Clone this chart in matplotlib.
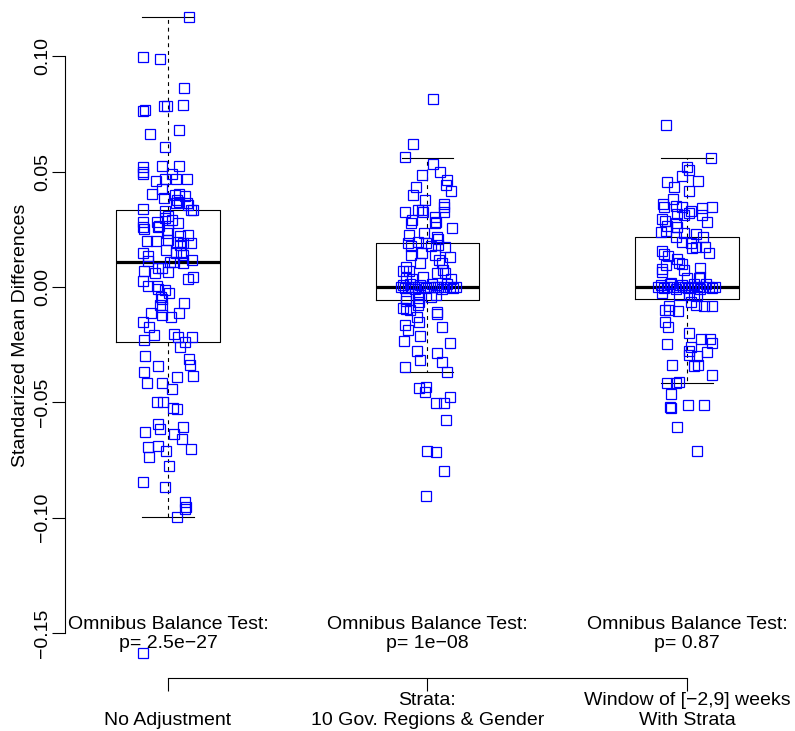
import matplotlib.pyplot as plt

plt.rcParams['font.family'] = ['Liberation Sans', 'DejaVu Sans']

# groups and labels
groups = [1, 2, 3]
group_labels = ["\nNo Adjustment",
                "Strata:\n10 Gov. Regions & Gender",
                "Window of [\u22122,9] weeks\nWith Strata"]
pvals = ["2.5e\u221227", "1e\u221208", "0.87"]
ytick_vals = [-0.15, -0.10, -0.05, 0.0, 0.05, 0.10]
ytick_labels = ["\u22120.15", "\u22120.10", "\u22120.05", "0.00", "0.05", "0.10"]

# box stats
box_q1 = [-0.0237, -0.0058, -0.0053]
box_med = [0.0108, 0.0, 0.0]
box_q3 = [0.0334, 0.0190, 0.0217]
box_lo = [-0.0997, -0.0370, -0.0416]
box_hi = [0.117, 0.0561, 0.0558]

# group 1: No Adjustment (value, jitter)
g1_y = [0.117, 0.0997, 0.0989, 0.0863, 0.0763, 0.0768, 0.0785, 0.0785, 0.079, 0.0663,
        0.0681, 0.0607, 0.052, 0.050, 0.049, 0.0525, 0.0525, 0.049, 0.046, 0.047,
        0.047, 0.047, 0.0405, 0.0425, 0.0386, 0.040, 0.0403, 0.0395, 0.0377, 0.037,
        0.0356, 0.0334, 0.0334, 0.0338, 0.033, 0.0364, 0.0364, 0.028, 0.026, 0.025,
        0.028, 0.0265, 0.026, 0.030, 0.0308, 0.029, 0.0278, 0.0247, 0.0234, 0.022,
        0.0225, 0.020, 0.020, 0.0204, 0.0195, 0.018, 0.019, 0.019, 0.016, 0.0147,
        0.0134, 0.0147, 0.015, 0.0139, 0.0113, 0.0108, 0.0108, 0.0104, 0.0117, 0.0082,
        0.0082, 0.0069, 0.0065, 0.006, 0.0026, 0.0035, 0.0043, 0.0004, 0.0004, -0.0009,
        -0.0013, -0.0026, -0.0043, -0.0052, -0.0069, -0.0078, -0.0087, -0.0113, -0.0121, -0.013,
        -0.0113, -0.0152, -0.0173, -0.0208, -0.023, -0.0204, -0.0217, -0.0239, -0.0217, -0.026,
        -0.030, -0.0312, -0.0338, -0.0343, -0.0369, -0.0386, -0.0416, -0.0416, -0.039, -0.0442,
        -0.0499, -0.0499, -0.0525, -0.0529, -0.0594, -0.0616, -0.0629, -0.0607, -0.0637, -0.0659,
        -0.0694, -0.069, -0.0711, -0.0737, -0.0703, -0.0776, -0.0846, -0.0867, -0.0932, -0.0954,
        -0.0963, -0.0997, -0.1587]
g1_jit = [0.08, -0.096, -0.03, 0.06, -0.096, -0.089, -0.015, -0.004, 0.058, -0.069,
          0.042, -0.012, -0.096, -0.096, -0.096, -0.023, 0.042, 0.015, -0.046, -0.012,
          0.031, 0.073, -0.062, -0.023, -0.015, 0.027, 0.042, 0.065, 0.035, 0.042,
          0.077, 0.088, 0.096, -0.096, -0.012, 0.031, 0.073, -0.096, -0.096, -0.092,
          -0.042, -0.035, -0.038, -0.012, 0.0, 0.015, 0.038, 0.0, -0.004, 0.046,
          0.077, -0.081, -0.046, 0.0, 0.035, 0.046, 0.058, 0.088, -0.008, -0.096,
          -0.077, 0.031, 0.05, 0.058, -0.077, 0.008, 0.023, 0.058, 0.092, -0.038,
          -0.023, -0.092, 0.0, -0.05, -0.096, 0.077, 0.096, -0.077, -0.042, -0.038,
          -0.012, 0.004, -0.027, -0.023, 0.062, -0.031, -0.023, -0.065, -0.023, 0.012,
          0.042, -0.096, -0.073, -0.054, -0.092, 0.023, 0.038, 0.065, 0.092, 0.046,
          -0.088, 0.081, 0.085, -0.038, -0.092, 0.096, -0.081, -0.023, 0.035, 0.015,
          -0.042, -0.019, 0.019, 0.035, -0.038, -0.031, -0.088, 0.058, 0.023, 0.054,
          -0.077, -0.038, -0.008, -0.073, 0.088, 0.004, -0.096, -0.012, 0.065, 0.069,
          0.065, 0.035, -0.096]

# group 2: Strata (value, jitter)
g2_y = [0.0815, 0.062, 0.0564, 0.0533, 0.0499, 0.0486, 0.0464, 0.0442, 0.0416, 0.0434,
        0.0399, 0.0377, 0.036, 0.0347, 0.0325, 0.0325, 0.0334, 0.0334, 0.0325, 0.0304,
        0.0282, 0.0278, 0.029, 0.0278, 0.0256, 0.0234, 0.0225, 0.0217, 0.0208, 0.019,
        0.0178, 0.0195, 0.019, 0.0178, 0.0182, 0.0173, 0.0139, 0.0147, 0.0139, 0.013,
        0.0104, 0.0117, 0.0104, 0.0069, 0.0069, 0.0087, 0.0043, 0.006, 0.0074, 0.006,
        0.0039, 0.0035, 0.0035,
        0.0, 0.001, -0.0005, 0.0, 0.0013, 0.0, -0.0008, 0.0, 0.0009, 0.0,
        -0.0004, 0.0, 0.0011, 0.0, 0.0, -0.0009, 0.0, 0.0013, 0.0, -0.0006, 0.0,
        -0.0048, -0.0048, -0.0043, -0.0065, -0.0035, -0.003, -0.0061, -0.0091, -0.0095, -0.01,
        -0.0078, -0.0108, -0.0117, -0.013, -0.0152, -0.0165, -0.0186, -0.0173, -0.0212, -0.0234,
        -0.0243, -0.0278, -0.0286, -0.0317, -0.0325, -0.0347, -0.0369, -0.0438, -0.0434, -0.0455,
        -0.0477, -0.0503, -0.0503, -0.0577, -0.0711, -0.0716, -0.0798, -0.0906]
g2_jit = [0.023, -0.054, -0.085, 0.023, 0.05, -0.023, 0.077, 0.073, 0.092, -0.046,
          -0.054, -0.008, 0.065, 0.065, 0.065, -0.088, -0.038, -0.023, -0.019, 0.027,
          0.031, 0.027, -0.058, -0.062, 0.096, -0.012, -0.073, 0.038, 0.042, -0.077,
          -0.062, -0.038, -0.004, 0.015, 0.042, 0.069, -0.062, -0.023, 0.027, 0.085,
          -0.027, 0.046, 0.054, -0.096, -0.073, -0.081, -0.019, 0.038, 0.058, 0.069,
          -0.081, -0.058, 0.092,
          -0.104, -0.096, -0.085, -0.077, -0.069, -0.058, -0.05, -0.038, -0.027, -0.015,
          -0.004, 0.008, 0.019, 0.031, 0.042, 0.054, 0.065, 0.077, 0.088, 0.1, 0.108,
          -0.081, -0.031, 0.015, -0.031, 0.031, -0.038, -0.081, -0.096, -0.081, -0.069,
          -0.038, 0.035, 0.035, -0.042, -0.031, -0.085, -0.077, 0.054, -0.027, -0.092,
          0.085, -0.042, 0.038, -0.027, 0.054, -0.088, 0.077, -0.031, -0.004, -0.008,
          0.085, 0.031, 0.065, 0.073, 0.0, 0.031, 0.065, -0.004]

# group 3: Window with strata (value, jitter)
g3_y = [0.0703, 0.056, 0.052, 0.0507, 0.0481, 0.0455, 0.046, 0.0434, 0.0416, 0.0382,
        0.036, 0.0347, 0.0351, 0.0347, 0.033, 0.0343, 0.0347, 0.0317, 0.0312, 0.0321,
        0.0312, 0.0295, 0.0286, 0.0265, 0.0278, 0.026, 0.0282, 0.0239, 0.0243, 0.0217,
        0.0234, 0.023, 0.0217, 0.0195, 0.019, 0.0173, 0.0169, 0.0173, 0.0156, 0.0143,
        0.0134, 0.0147, 0.0121, 0.0104, 0.0095, 0.0078, 0.0065, 0.01, 0.0074, 0.0082,
        0.0039, 0.0039, 0.0043, 0.0017,
        0.0, 0.0008, -0.0006, 0.0, 0.0012, 0.0, -0.0009, 0.0, 0.001, 0.0,
        -0.0005, 0.0, 0.0011, 0.0, -0.0007, 0.0, 0.0013, 0.0, -0.0004, 0.0,
        -0.0026, -0.0035, -0.0035, -0.0039, -0.0035, -0.0065, -0.0078, -0.0082, -0.0082, -0.0082,
        -0.01, -0.01, -0.0104, -0.0152, -0.0173, -0.02, -0.0247, -0.0225, -0.0225, -0.0243,
        -0.0282, -0.0278, -0.026, -0.0295, -0.0299, -0.0343, -0.0338, -0.0338, -0.0382, -0.0416,
        -0.0416, -0.0412, -0.0464, -0.052, -0.0525, -0.0512, -0.0512, -0.0607, -0.0711]
g3_jit = [-0.08, 0.092, 0.0, 0.008, -0.019, -0.077, 0.042, -0.05, 0.008, -0.054,
          -0.092, -0.088, -0.042, -0.019, 0.015, 0.058, 0.096, -0.038, -0.012, 0.008,
          0.058, -0.096, -0.085, -0.077, -0.042, -0.038, 0.077, -0.1, -0.08, -0.042,
          -0.012, 0.035, 0.062, -0.019, 0.015, 0.035, 0.019, 0.069, -0.096, -0.088,
          -0.073, 0.085, -0.038, -0.031, -0.08, -0.096, -0.096, -0.019, -0.012, 0.05,
          0.0, 0.046, 0.05, -0.062,
          -0.112, -0.1, -0.088, -0.077, -0.065, -0.054, -0.042, -0.031, -0.019, -0.008,
          0.004, 0.015, 0.027, 0.038, 0.05, 0.062, 0.073, 0.085, 0.096, 0.108,
          -0.096, 0.008, 0.027, 0.038, -0.031, 0.015, 0.035, 0.065, 0.096, -0.069,
          -0.085, -0.069, -0.035, -0.085, -0.073, 0.008, -0.077, 0.054, 0.088, 0.096,
          0.077, 0.008, 0.015, 0.008, 0.038, 0.027, 0.042, -0.058, 0.096, -0.077,
          -0.042, -0.031, -0.062, -0.065, -0.062, 0.004, 0.065, -0.038, 0.038]

fig = plt.figure(figsize=(7.95, 7.31), dpi=100)
ax = fig.add_axes([65 / 795, 0, 730 / 795, 1])
ax.set_xlim(0.6031, 3.4162)
ax.set_ylim(-0.19254, 0.12446)

stats = []
for i in range(3):
    stats.append(dict(med=box_med[i], q1=box_q1[i], q3=box_q3[i],
                      whislo=box_lo[i], whishi=box_hi[i], fliers=[]))
ax.bxp(stats, positions=groups, widths=0.4, capwidths=0.2, showfliers=False,
       manage_ticks=False, zorder=2,
       boxprops=dict(color='black', lw=0.8),
       medianprops=dict(color='black', lw=2.3, solid_capstyle='butt'),
       whiskerprops=dict(color='black', lw=0.8, ls=(0, (3.5, 3.5))),
       capprops=dict(color='black', lw=0.8))

for g, ys, js in zip(groups, [g1_y, g2_y, g3_y], [g1_jit, g2_jit, g3_jit]):
    xs = [g + j for j in js]
    ax.plot(xs, ys, 's', mfc='none', mec='blue', ms=6.6, mew=0.9,
            clip_on=False, zorder=3)

for g, p in zip(groups, pvals):
    ax.text(g, -0.1503, "Omnibus Balance Test:\np= " + p, ha='center', va='center',
            fontsize=14, linespacing=1.15)

# axes, R style
ax.spines['top'].set_visible(False)
ax.spines['right'].set_visible(False)
ax.spines['left'].set_bounds(-0.15, 0.10)
ax.spines['left'].set_linewidth(0.8)
ax.spines['bottom'].set_position(('data', -0.1697))
ax.spines['bottom'].set_bounds(1, 3)
ax.spines['bottom'].set_linewidth(0.8)

ax.set_yticks(ytick_vals)
ax.set_yticklabels(ytick_labels)
ax.tick_params(axis='y', length=9.4, width=0.8, pad=0.8, labelsize=14, labelrotation=90)
for lbl in ax.get_yticklabels():
    lbl.set_va('center')

ax.set_xticks(groups)
ax.set_xticklabels(group_labels)
ax.tick_params(axis='x', length=9.4, width=0.8, pad=0.5, labelsize=14)

ax.set_ylabel("Standarized Mean Differences", fontsize=14)
ax.yaxis.set_label_coords((21 - 65) / 730, 1 - 335 / 731)
ax.yaxis.label.set_va('center')

fig.savefig('out.png', dpi=100)
